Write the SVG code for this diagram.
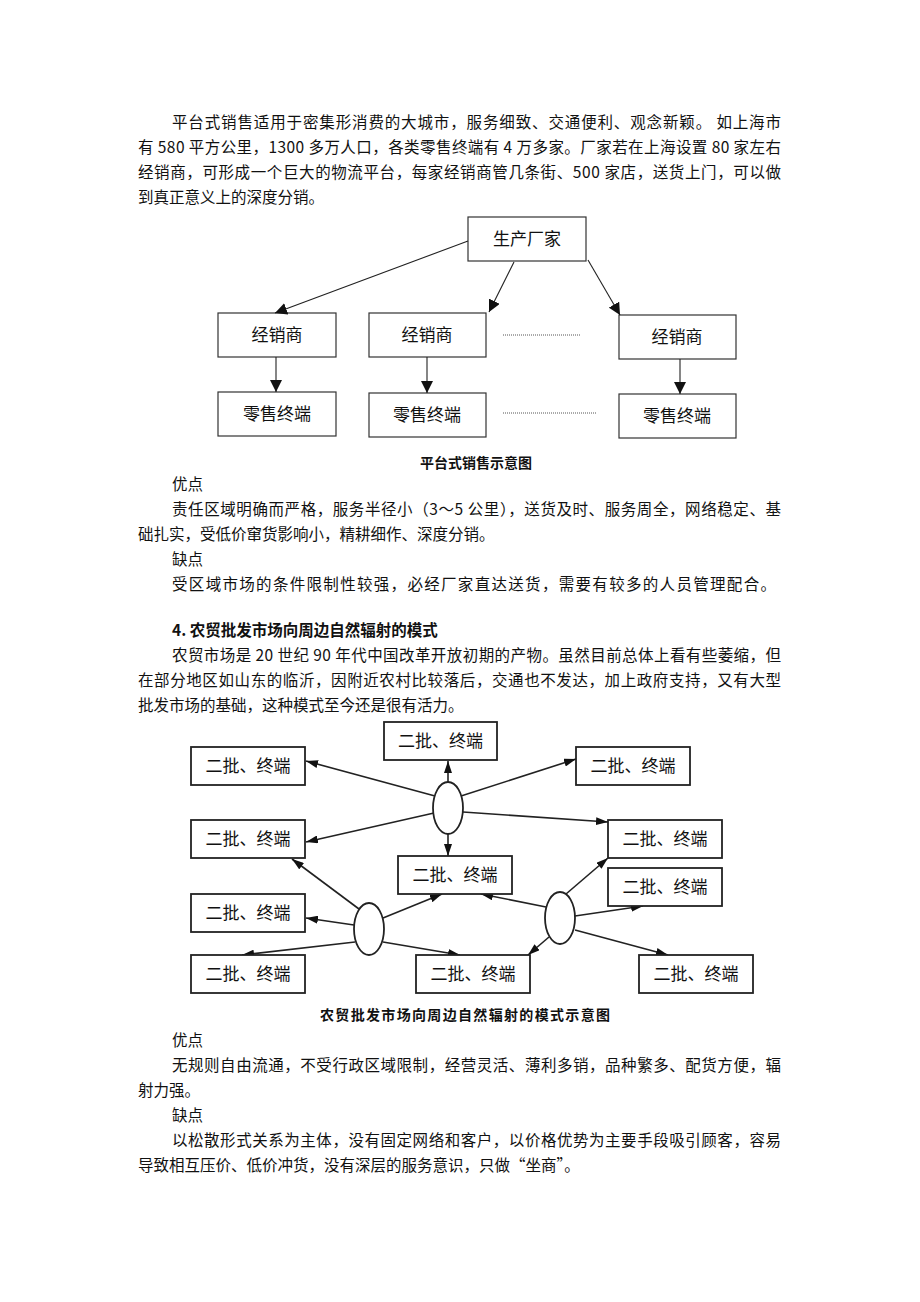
<svg xmlns="http://www.w3.org/2000/svg" width="920" height="1302" viewBox="0 0 920 1302">
<style>
text{font-family:"Noto Sans CJK SC","Noto Sans",sans-serif;fill:#111}
.b{font-size:15.5px}
.h{font-size:15.5px;font-weight:bold}
.cap{font-size:14px;font-weight:bold;text-anchor:middle}
.n{font-size:17px;text-anchor:middle}
.box1{fill:#fff;stroke:#333;stroke-width:1.2}
.box2{fill:#fff;stroke:#222;stroke-width:1.8}
.ell{fill:#fff;stroke:#222;stroke-width:1.8}
.c1{stroke:#222;stroke-width:1.1;fill:none;marker-end:url(#a1)}
.c2{stroke:#222;stroke-width:1.6;fill:none;marker-end:url(#a2)}
.dot{stroke:#555;stroke-width:1;stroke-dasharray:1 1;fill:none}
</style>
<defs>
<marker id="a1" markerUnits="userSpaceOnUse" markerWidth="12" markerHeight="12" refX="12" refY="6" orient="auto"><path d="M0,0 L12,6 L0,12 z" fill="#111"/></marker>
<marker id="a2" markerUnits="userSpaceOnUse" markerWidth="12" markerHeight="8" refX="12" refY="4" orient="auto"><path d="M0,0 L12,4 L0,8 z" fill="#111"/></marker>
</defs>
<rect width="920" height="1302" fill="#fff"/>

<g id="text-top">
<text class="b" x="172" y="128" textLength="609" lengthAdjust="spacing">平台式销售适用于密集形消费的大城市，服务细致、交通便利、观念新颖。 如上海市</text>
<text class="b" x="138" y="153" textLength="643" lengthAdjust="spacing">有 580 平方公里，1300 多万人口，各类零售终端有 4 万多家。厂家若在上海设置 80 家左右</text>
<text class="b" x="138" y="178" textLength="643" lengthAdjust="spacing">经销商，可形成一个巨大的物流平台，每家经销商管几条街、500 家店，送货上门，可以做</text>
<text class="b" x="138" y="203">到真正意义上的深度分销。</text>
</g>

<g id="diagram1">
<g id="n-factory"><rect class="box1" x="468" y="217" width="118" height="44"/><text class="n" x="527" y="245">生产厂家</text></g>
<g id="n-dealer1"><rect class="box1" x="218" y="313" width="118" height="44"/><text class="n" x="277" y="341">经销商</text></g>
<g id="n-dealer2"><rect class="box1" x="369" y="313" width="117" height="44"/><text class="n" x="427" y="341">经销商</text></g>
<g id="n-dealer3"><rect class="box1" x="619" y="315" width="117" height="44"/><text class="n" x="677" y="343">经销商</text></g>
<g id="n-retail1"><rect class="box1" x="218" y="392" width="118" height="44"/><text class="n" x="277" y="420">零售终端</text></g>
<g id="n-retail2"><rect class="box1" x="369" y="393" width="117" height="44"/><text class="n" x="427" y="421">零售终端</text></g>
<g id="n-retail3"><rect class="box1" x="619" y="394" width="117" height="44"/><text class="n" x="677" y="422">零售终端</text></g>
<g id="connectors1">
<line class="c1" x1="468" y1="241" x2="275" y2="313"/>
<line class="c1" x1="514" y1="262" x2="489" y2="312"/>
<line class="c1" x1="588" y1="260" x2="620" y2="315"/>
<line class="c1" x1="276" y1="357" x2="276" y2="392"/>
<line class="c1" x1="427" y1="357" x2="427" y2="393"/>
<line class="c1" x1="680" y1="359" x2="680" y2="394"/>
<line class="dot" x1="503" y1="335" x2="580" y2="335"/>
<line class="dot" x1="503" y1="413" x2="597" y2="413"/>
</g>
</g>
<text class="cap" x="476" y="468">平台式销售示意图</text>

<g id="text-mid">
<text class="b" x="172" y="490">优点</text>
<text class="b" x="172" y="515" textLength="609" lengthAdjust="spacing">责任区域明确而严格，服务半径小（3～5 公里），送货及时、服务周全，网络稳定、基</text>
<text class="b" x="138" y="540">础扎实，受低价窜货影响小，精耕细作、深度分销。</text>
<text class="b" x="172" y="565">缺点</text>
<text class="b" x="172" y="590" textLength="604" lengthAdjust="spacing">受区域市场的条件限制性较强，必经厂家直达送货，需要有较多的人员管理配合。</text>
<text class="h" x="172" y="636">4. 农贸批发市场向周边自然辐射的模式</text>
<text class="b" x="172" y="661" textLength="609" lengthAdjust="spacing">农贸市场是 20 世纪 90 年代中国改革开放初期的产物。虽然目前总体上看有些萎缩，但</text>
<text class="b" x="138" y="686" textLength="643" lengthAdjust="spacing">在部分地区如山东的临沂，因附近农村比较落后，交通也不发达，加上政府支持，又有大型</text>
<text class="b" x="138" y="711">批发市场的基础，这种模式至今还是很有活力。</text>
</g>

<g id="diagram2">
<g id="connectors2">
<line class="c2" x1="448" y1="782" x2="448" y2="761"/>
<line class="c2" x1="435" y1="796" x2="306" y2="761"/>
<line class="c2" x1="461" y1="796" x2="576" y2="759"/>
<line class="c2" x1="434" y1="813" x2="306" y2="842"/>
<line class="c2" x1="463" y1="812" x2="608" y2="822"/>
<line class="c2" x1="448" y1="834" x2="448" y2="856"/>
<line class="c2" x1="359" y1="909" x2="292" y2="859"/>
<line class="c2" x1="354" y1="925" x2="306" y2="918"/>
<line class="c2" x1="355" y1="942" x2="242" y2="955"/>
<line class="c2" x1="383" y1="918" x2="442" y2="894"/>
<line class="c2" x1="383" y1="942" x2="460" y2="955"/>
<line class="c2" x1="566" y1="894" x2="608" y2="858"/>
<line class="c2" x1="546" y1="907" x2="481" y2="894"/>
<line class="c2" x1="575" y1="916" x2="643" y2="906"/>
<line class="c2" x1="549" y1="937" x2="528" y2="955"/>
<line class="c2" x1="575" y1="930" x2="668" y2="955"/>
</g>
<g id="b1"><rect class="box2" x="384" y="722" width="113" height="38"/><text class="n" x="440.5" y="747">二批、终端</text></g>
<g id="b2"><rect class="box2" x="191" y="747" width="114" height="38"/><text class="n" x="248" y="772">二批、终端</text></g>
<g id="b3"><rect class="box2" x="576" y="747" width="114" height="38"/><text class="n" x="633" y="772">二批、终端</text></g>
<g id="b4"><rect class="box2" x="191" y="820" width="114" height="38"/><text class="n" x="248" y="845">二批、终端</text></g>
<g id="b5"><rect class="box2" x="608" y="820" width="114" height="38"/><text class="n" x="665" y="845">二批、终端</text></g>
<g id="b6"><rect class="box2" x="398" y="856" width="114" height="38"/><text class="n" x="455" y="881">二批、终端</text></g>
<g id="b7"><rect class="box2" x="608" y="868" width="114" height="38"/><text class="n" x="665" y="893">二批、终端</text></g>
<g id="b8"><rect class="box2" x="191" y="894" width="114" height="38"/><text class="n" x="248" y="919">二批、终端</text></g>
<g id="b9"><rect class="box2" x="191" y="955" width="114" height="38"/><text class="n" x="248" y="980">二批、终端</text></g>
<g id="b10"><rect class="box2" x="416" y="955" width="114" height="38"/><text class="n" x="473" y="980">二批、终端</text></g>
<g id="b11"><rect class="box2" x="639" y="955" width="114" height="38"/><text class="n" x="696" y="980">二批、终端</text></g>
<g id="e1"><ellipse class="ell" cx="448" cy="808" rx="15" ry="26"/></g>
<g id="e2"><ellipse class="ell" cx="369" cy="929" rx="15" ry="26"/></g>
<g id="e3"><ellipse class="ell" cx="560" cy="918" rx="15" ry="26"/></g>
</g>
<text class="cap" x="465" y="1020" textLength="290" lengthAdjust="spacing">农贸批发市场向周边自然辐射的模式示意图</text>

<g id="text-bottom">
<text class="b" x="172" y="1046">优点</text>
<text class="b" x="172" y="1071" textLength="609" lengthAdjust="spacing">无规则自由流通，不受行政区域限制，经营灵活、薄利多销，品种繁多、配货方便，辐</text>
<text class="b" x="138" y="1096">射力强。</text>
<text class="b" x="172" y="1121">缺点</text>
<text class="b" x="172" y="1146" textLength="609" lengthAdjust="spacing">以松散形式关系为主体，没有固定网络和客户，以价格优势为主要手段吸引顾客，容易</text>
<text class="b" x="138" y="1171">导致相互压价、低价冲货，没有深层的服务意识，只做“坐商”。</text>
</g>
</svg>
